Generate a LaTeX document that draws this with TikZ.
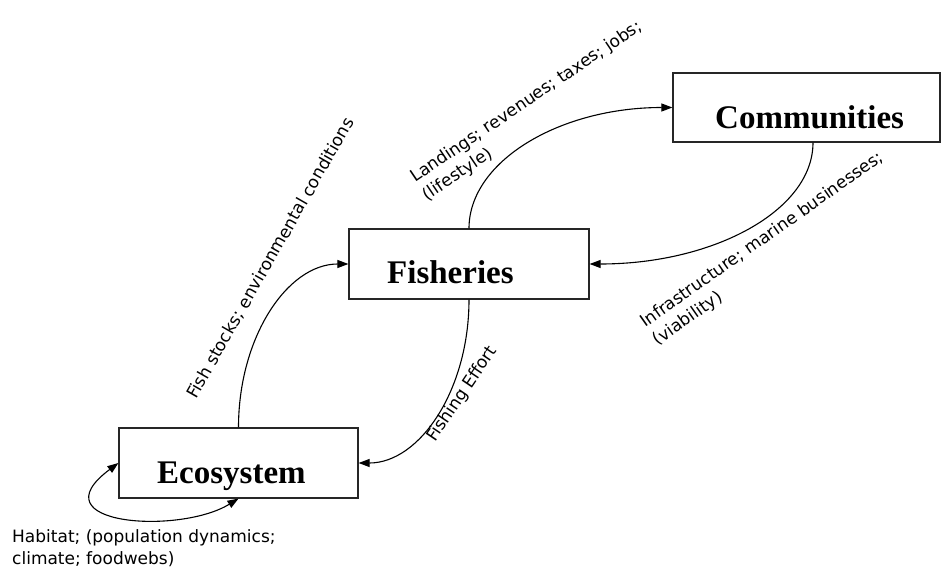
\documentclass[tikz,border=0pt]{standalone}
\usepackage{fontspec}
\setmainfont{Liberation Serif}
\newfontfamily\lblfont{DejaVu Sans}
\usetikzlibrary{arrows.meta}
\begin{document}
\begin{tikzpicture}[x=1pt,y=-1pt,
  box/.style={draw=black!85, line width=1.2pt, inner sep=0pt},
  title/.style={font=\bfseries\fontsize{33}{36}\selectfont, inner sep=0pt, anchor=base west},
  lbl/.style={font=\lblfont\fontsize{17}{22}\selectfont, inner sep=0pt, anchor=base west},
  tip/.tip={Triangle[length=11pt,width=8pt]},
  flow/.style={line width=1.1pt, -tip},
  loopflow/.style={line width=1.1pt, tip-tip}]
\useasboundingbox (0,0) rectangle (943,570);

% boxes
\node[box, minimum width=240pt, minimum height=70pt] (fish) at (469,264) {};
\node[box, minimum width=239pt, minimum height=70pt] (eco) at (238.5,463) {};
\node[box, minimum width=267pt, minimum height=69pt] (comm) at (806.5,107.5) {};

% box titles
\node[title] (fishT) at (387,283) {Fisheries};
\node[title] (ecoT) at (157,483) {Ecosystem};
\node[title] (commT) at (715,128) {Communities};

% connectors
\coordinate (commOut) at ([xshift=6.5pt]comm.south);
\draw[flow] (eco.north) .. controls +(0,-90) and +(-61,0) .. (fish.west);
\draw[flow] (fish.south) .. controls +(0,90.5) and +(61,0) .. (eco.east);
\draw[flow] (fish.north) .. controls +(0,-67) and +(-113,0) .. (comm.west);
\draw[flow] (commOut) .. controls +(0,68) and +(124,0) .. (fish.east);
\draw[loopflow] (eco.south) .. controls (179,535) and (35,525) .. (eco.west);

% labels
\node[lbl, rotate=60.3] (lfish) at (196,400) {Fish stocks; environmental conditions};
\node[lbl, rotate=56] (leff) at (435,443) {Fishing Effort};
\node[lbl, rotate=34] (lland) at (415,183) {\vtop{\hbox{Landings; revenues; taxes; jobs;}\hbox{(lifestyle)}}};
\node[lbl, rotate=35] (linf) at (645,328) {\vtop{\hbox{Infrastructure; marine businesses;}\hbox{(viability)}}};
\node[lbl] (lhab) at (12,542) {\vtop{\hbox{Habitat; (population dynamics;}\hbox{climate; foodwebs)}}};
\end{tikzpicture}
\end{document}
